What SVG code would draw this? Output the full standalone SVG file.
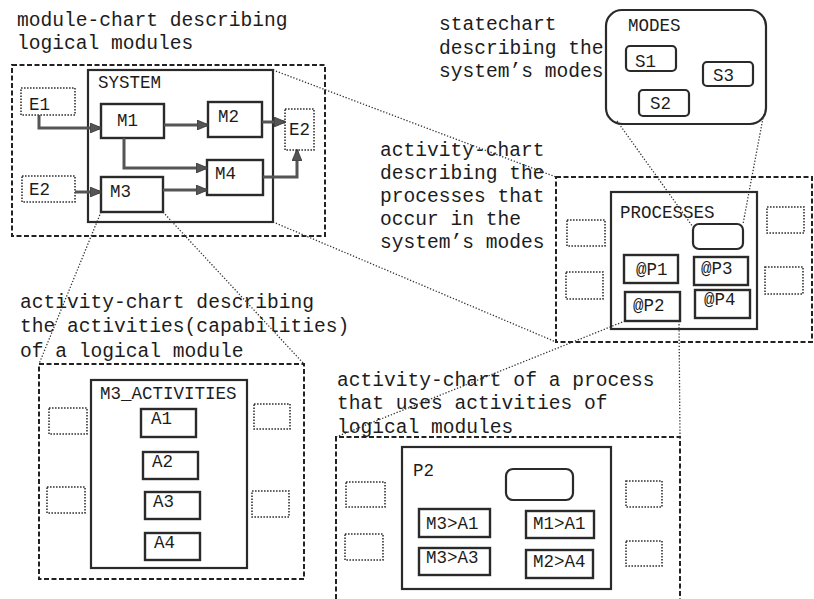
<svg xmlns="http://www.w3.org/2000/svg" width="814" height="599" viewBox="0 0 814 599">
  <style>
    text { font-family: "Liberation Mono", "Courier New", monospace; fill: #1c1c1c; }
    .title { font-size: 19.6px; }
    .lbl { font-size: 17.5px; }
    .solid { fill: #fff; stroke: #2a2a2a; stroke-width: 2.4; }
    .frame { fill: none; stroke: #2a2a2a; stroke-width: 2.2; }
    .dot { fill: none; stroke: #333; stroke-width: 1.6; stroke-dasharray: 1.6 1.4; }
    .dash { fill: none; stroke: #222; stroke-width: 2; stroke-dasharray: 5 2.5; }
    .link { fill: none; stroke: #333; stroke-width: 1.3; stroke-dasharray: 1.3 1.8; }
    .flow { fill: none; stroke: #555; stroke-width: 3; marker-end: url(#head); }
  </style>
  <defs>
    <marker id="head" viewBox="0 0 12 10" refX="11" refY="5" markerWidth="12" markerHeight="10" markerUnits="userSpaceOnUse" orient="auto">
      <path d="M0,0 L12,5 L0,10 Z" fill="#555" stroke="#333" stroke-width="0.8"/>
    </marker>
  </defs>

  <!-- captions -->
  <g id="captions">
    <text class="title" x="17" y="26">module-chart describing</text>
    <text class="title" x="17" y="49">logical modules</text>
    <text class="title" x="439" y="30">statechart</text>
    <text class="title" x="439" y="54">describing the</text>
    <text class="title" x="439" y="77">system’s modes</text>
    <text class="title" x="380" y="156">activity-chart</text>
    <text class="title" x="380" y="179">describing the</text>
    <text class="title" x="380" y="202">processes that</text>
    <text class="title" x="380" y="225">occur in the</text>
    <text class="title" x="380" y="248">system’s modes</text>
    <text class="title" x="20" y="308">activity-chart describing</text>
    <text class="title" x="20" y="332">the activities(capabilities)</text>
    <text class="title" x="20" y="357">of a logical module</text>
    <text class="title" x="337" y="386">activity-chart of a process</text>
    <text class="title" x="337" y="409">that uses activities of</text>
    <text class="title" x="337" y="433">logical modules</text>
  </g>

  <!-- module-chart -->
  <g id="module-chart">
    <rect class="dash" x="12" y="65" width="313" height="171"/>
    <g id="system"><rect class="frame" x="88" y="70" width="185" height="152"/><text class="lbl" x="98" y="88">SYSTEM</text></g>
    <g id="e1"><rect class="dot" x="21" y="88" width="54" height="27"/><text class="lbl" x="29" y="110">E1</text></g>
    <g id="e2-in"><rect class="dot" x="22" y="176" width="53" height="26"/><text class="lbl" x="29" y="195">E2</text></g>
    <g id="e2-out"><rect class="dot" x="285" y="109" width="29" height="41"/><text class="lbl" x="289" y="135">E2</text></g>
    <g id="m1"><rect class="solid" x="101" y="104" width="63" height="34"/><text class="lbl" x="117" y="126">M1</text></g>
    <g id="m2"><rect class="solid" x="208" y="102" width="54" height="35"/><text class="lbl" x="218" y="122">M2</text></g>
    <g id="m4"><rect class="solid" x="207" y="160" width="56" height="35"/><text class="lbl" x="215" y="179">M4</text></g>
    <g id="m3"><rect class="solid" x="101" y="177" width="62" height="35"/><text class="lbl" x="110" y="197">M3</text></g>
  </g>

  <!-- statechart -->
  <g id="statechart">
    <g id="modes"><rect class="frame" x="606" y="10" width="160" height="114" rx="16"/><text class="lbl" x="628" y="31">MODES</text></g>
    <g id="s1"><rect class="frame" x="626" y="46" width="50" height="25" rx="4"/><text class="lbl" x="635" y="67">S1</text></g>
    <g id="s3"><rect class="frame" x="703" y="62" width="50" height="24" rx="4"/><text class="lbl" x="713" y="81">S3</text></g>
    <g id="s2"><rect class="frame" x="639" y="90" width="50" height="26" rx="4"/><text class="lbl" x="650" y="109">S2</text></g>
  </g>

  <!-- processes activity-chart -->
  <g id="processes-chart">
    <rect class="dash" x="556" y="177" width="256" height="165"/>
    <g id="processes"><rect class="frame" x="611" y="192" width="146" height="137"/><text class="lbl" x="620" y="218">PROCESSES</text></g>
    <g id="modes-ref"><rect class="frame" x="693" y="224" width="50" height="25" rx="6"/></g>
    <g id="p1"><rect class="solid" x="624" y="255" width="54" height="28"/><text class="lbl" x="636" y="275">@P1</text></g>
    <g id="p3"><rect class="solid" x="694" y="257" width="54" height="28"/><text class="lbl" x="701" y="274">@P3</text></g>
    <g id="p2"><rect class="solid" x="625" y="292" width="55" height="29"/><text class="lbl" x="633" y="311">@P2</text></g>
    <g id="p4"><rect class="solid" x="695" y="290" width="55" height="28"/><text class="lbl" x="704" y="305">@P4</text></g>
    <rect class="dot" x="567" y="220" width="38" height="26"/>
    <rect class="dot" x="566" y="272" width="37" height="27"/>
    <rect class="dot" x="767" y="207" width="37" height="26"/>
    <rect class="dot" x="765" y="267" width="38" height="27"/>
  </g>

  <!-- M3 activity-chart -->
  <g id="m3-chart">
    <rect class="dash" x="39" y="364" width="265" height="215"/>
    <g id="m3-activities"><rect class="frame" x="91" y="380" width="156" height="188"/><text class="lbl" x="100" y="399">M3_ACTIVITIES</text></g>
    <g id="a1"><rect class="solid" x="141" y="409" width="55" height="28"/><text class="lbl" x="151" y="424">A1</text></g>
    <g id="a2"><rect class="solid" x="143" y="452" width="55" height="27"/><text class="lbl" x="152" y="467">A2</text></g>
    <g id="a3"><rect class="solid" x="145" y="492" width="55" height="27"/><text class="lbl" x="153" y="507">A3</text></g>
    <g id="a4"><rect class="solid" x="145" y="533" width="55" height="27"/><text class="lbl" x="154" y="548">A4</text></g>
    <rect class="dot" x="49" y="408" width="38" height="26"/>
    <rect class="dot" x="47" y="487" width="38" height="26"/>
    <rect class="dot" x="254" y="404" width="36" height="25"/>
    <rect class="dot" x="252" y="491" width="37" height="26"/>
  </g>

  <!-- P2 activity-chart -->
  <g id="p2-chart">
    <path class="dash" d="M336,599 V437 H680 V599"/>
    <g id="p2-box"><rect class="frame" x="402" y="447" width="209" height="142"/><text class="lbl" x="413" y="476">P2</text></g>
    <g id="p2-state"><rect class="frame" x="506" y="469" width="67" height="31" rx="7"/></g>
    <g id="m3a1"><rect class="solid" x="419" y="509" width="71" height="28"/><text class="lbl" x="426" y="529">M3&gt;A1</text></g>
    <g id="m1a1"><rect class="solid" x="526" y="511" width="68" height="27"/><text class="lbl" x="533" y="529">M1&gt;A1</text></g>
    <g id="m3a3"><rect class="solid" x="419" y="548" width="71" height="27"/><text class="lbl" x="426" y="563">M3&gt;A3</text></g>
    <g id="m2a4"><rect class="solid" x="526" y="550" width="67" height="28"/><text class="lbl" x="533" y="567">M2&gt;A4</text></g>
    <rect class="dot" x="346" y="482" width="39" height="25"/>
    <rect class="dot" x="345" y="534" width="38" height="26"/>
    <rect class="dot" x="626" y="481" width="36" height="26"/>
    <rect class="dot" x="626" y="541" width="36" height="25"/>
  </g>

  <!-- connectors -->
  <g id="connectors">
    <path class="flow" d="M39,115 V128 H101"/>
    <path class="flow" d="M164,125 H208"/>
    <path class="flow" d="M262,122 H285"/>
    <path class="flow" d="M124,138 V168 H207"/>
    <path class="flow" d="M163,190 H207"/>
    <path class="flow" d="M75,192 H101"/>
    <path class="flow" d="M263,177 H297 V150"/>
    <path class="link" d="M273,70 L556,177"/>
    <path class="link" d="M273,222 L556,342"/>
    <path class="link" d="M101,212 L39,364"/>
    <path class="link" d="M163,212 L304,364"/>
    <path class="link" d="M617,121 L693,227"/>
    <path class="link" d="M763,118 L743,224"/>
    <path class="link" d="M625,321 L336,437"/>
    <path class="link" d="M679,321 L680,437"/>
  </g>
</svg>
